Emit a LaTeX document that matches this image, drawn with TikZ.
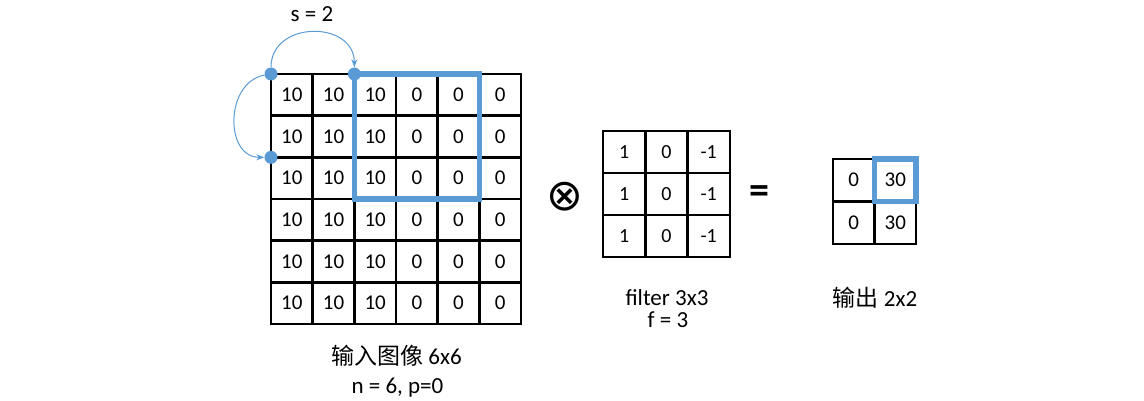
\documentclass[tikz,border=0pt]{standalone}
\usepackage{fontspec}
\setmainfont{Carlito}
\newfontfamily\cjk{Noto Sans CJK SC}
\newfontfamily\symfont{DejaVu Sans}
\usetikzlibrary{arrows.meta, positioning}
\definecolor{hlblue}{HTML}{5B9BD5}
\tikzset{
	cell/.style={draw=black, line width=2.6pt, minimum width=41.67pt, minimum height=41.67pt,
		inner sep=0pt, outer sep=0pt, font=\fontsize{21}{25}\selectfont},
	fcell/.style={cell, minimum width=42.3pt, minimum height=42pt, font=\fontsize{20}{24}\selectfont},
	ocell/.style={cell, minimum width=41.5pt, minimum height=42.5pt},
	hlbox/.style={draw=hlblue, line width=5.3pt},
	sdot/.style={circle, fill=hlblue, minimum size=13pt, inner sep=0pt},
	sarr/.style={-{Stealth[length=8pt, width=6pt]}, draw=hlblue, line width=1pt},
	lbl/.style={font=\fontsize{23}{27}\selectfont, inner sep=0pt, anchor=base}
}

\begin{document}
\begin{tikzpicture}[x=1pt, y=-1pt]
	\useasboundingbox (0,0) rectangle (1144,401);
	% input image 6x6
	\foreach \r in {1,...,6}
		\foreach \c/\v in {1/10,2/10,3/10,4/0,5/0,6/0}
			\node[cell] (in-\r-\c) at ({271+(\c-0.5)*41.67},{74+(\r-0.5)*41.67}) {\v};
	\draw[hlbox] (in-1-3.north west) rectangle (in-3-5.south east);
	\node[sdot] (d1) at (in-1-1.north west) {};
	\node[sdot] (d2) at (in-1-3.north west) {};
	\node[sdot] (d3) at (in-3-1.north west) {};
	\draw[sarr] (d1) to[out=90, in=90, looseness=1.45] (d2);
	\draw[sarr] (d1) to[out=190, in=180, looseness=1.25] (d3);
	\node[lbl] (stride) at (312,22) {s = 2};
	\node[lbl] (inlbl) at (396.5,364) {{\cjk 输入图像} 6x6};
	\node[lbl] (inpar) at (397.5,393) {n = 6, p=0};
	% conv sign
	\node[font=\symfont\fontsize{44}{50}\selectfont, inner sep=0pt] (conv) at (565,197) {⊗};
	% filter 3x3
	\foreach \r in {1,2,3}
		\foreach \c/\v in {1/1,2/0,3/-1}
			\node[fcell] (f-\r-\c) at ({603+(\c-0.5)*42.3},{131+(\r-0.5)*42}) {\v};
	\node[lbl] (flbl) at (667,305) {filter 3x3};
	\node[lbl] (fpar) at (668,327) {f = 3};
	% equals
	\node[font=\bfseries\fontsize{40}{46}\selectfont, inner sep=0pt] (eq) at (759.5,194.5) {=};
	% output 2x2
	\foreach \r in {1,2}
		\foreach \c/\v in {1/0,2/30}
			\node[ocell] (o-\r-\c) at ({833+(\c-0.5)*41.5},{159+(\r-0.5)*42.5}) {\v};
	\draw[hlbox] (o-1-2.north west) rectangle (o-1-2.south east);
	\node[lbl] (olbl) at (875,306) {{\cjk 输出} 2x2};
\end{tikzpicture}
\end{document}
